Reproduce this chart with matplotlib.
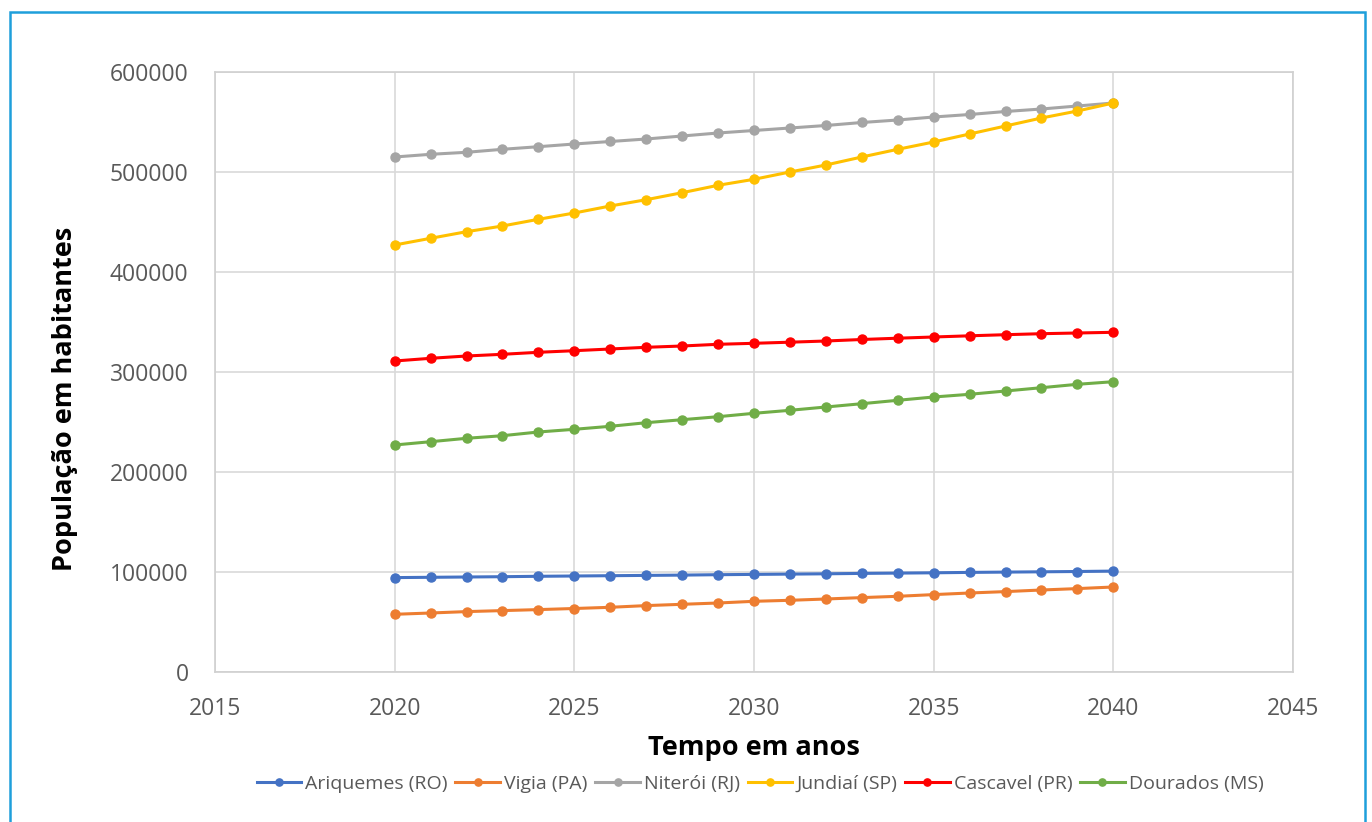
import numpy as np
import matplotlib
matplotlib.use("Agg")
import matplotlib.pyplot as plt
from matplotlib.patches import Rectangle

plt.rcParams["font.family"] = ["Open Sans", "DejaVu Sans"]

anos = list(range(2020, 2041))
ariquemes = [94400, 94700, 95000, 95300, 95700, 96000, 96300, 96600, 96900, 97300, 97600,
             97900, 98200, 98600, 98900, 99200, 99600, 99900, 100200, 100500, 100900]
vigia = [57700, 59000, 60400, 61400, 62400, 63500, 64700, 66400, 67700, 69000, 70700,
         71700, 73000, 74400, 75700, 77400, 79000, 80400, 82000, 83400, 85000]
niteroi = [515000, 517700, 519700, 522700, 525300, 528000, 530500, 533000, 536000, 539000, 541500,
           544000, 546500, 549500, 552000, 555000, 557500, 560500, 563000, 566000, 569000]
jundiai = [427000, 433700, 440300, 446000, 452700, 459000, 466000, 472300, 479300, 486700, 492700,
           500000, 507000, 515000, 522700, 530000, 538000, 546000, 554000, 561000, 569000]
cascavel = [311000, 313700, 316000, 317700, 319700, 321300, 323000, 324700, 326000, 327700, 328700,
            329800, 331000, 332500, 333800, 335000, 336200, 337300, 338300, 339000, 339700]
dourados = [227000, 230300, 233700, 236300, 240000, 242700, 245700, 249300, 252300, 255300, 258700,
            261700, 265000, 268300, 271700, 275000, 277700, 281000, 284300, 287700, 290300]

series = [("Ariquemes (RO)", ariquemes, "#4472C4"),
          ("Vigia (PA)", vigia, "#ED7D31"),
          ("Niterói (RJ)", niteroi, "#A5A5A5"),
          ("Jundiaí (SP)", jundiai, "#FFC000"),
          ("Cascavel (PR)", cascavel, "#FF0000"),
          ("Dourados (MS)", dourados, "#70AD47")]

fig = plt.figure(figsize=(13.72, 8.22), dpi=100)
W, H = 1372, 822
ax = fig.add_axes([215 / W, 1 - 672 / H, (1293 - 215) / W, 600 / H])

for nome, vals, cor in series:
    ax.plot(anos, vals, color=cor, lw=2.2, marker="o", ms=6.5, label=nome, zorder=3)

ax.set_xlim(2015, 2045)
ax.set_ylim(0, 600000)
ax.set_xticks(range(2015, 2046, 5))
ax.set_yticks(range(0, 600001, 100000))
ax.grid(True, color="#D9D9D9", lw=1.2, zorder=0)
for s in ax.spines.values():
    s.set_color("#D0D0D0")
    s.set_linewidth(1.2)
ax.tick_params(length=0, labelsize=16.5, colors="#595959")
ax.tick_params(axis="y", pad=19)
ax.tick_params(axis="x", pad=18)

ax.set_xlabel("Tempo em anos", fontsize=19.5, fontweight="bold", labelpad=10)
ax.set_ylabel("População em habitantes", fontsize=19.5, fontweight="bold")
ax.yaxis.set_label_coords(-0.127, 0.455)

leg = ax.legend(loc="upper center", bbox_to_anchor=(0.5055, -0.142), ncol=6, frameon=False,
                fontsize=14, handlelength=2.3, handletextpad=0.2, columnspacing=0.4,
                markerscale=0.8)
for t in leg.get_texts():
    t.set_color("#595959")

fig.add_artist(Rectangle((9.5 / W, -0.01), (1365 - 9.5) / W, 1 - 12 / H + 0.01,
                         transform=fig.transFigure, fill=False, edgecolor="#1E9FDB", lw=1.8))

fig.savefig("out.png", dpi=100)
